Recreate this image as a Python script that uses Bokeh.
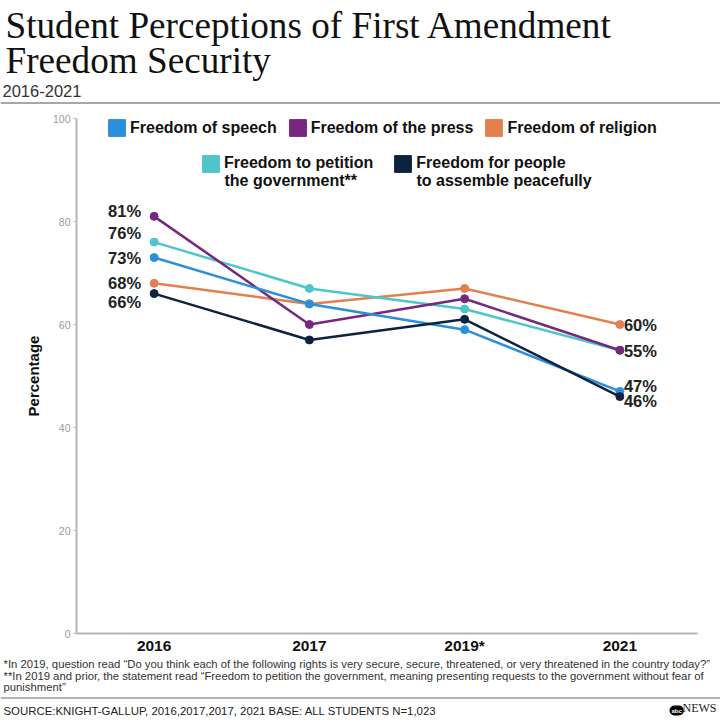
from bokeh.plotting import figure
from bokeh.layouts import column
from bokeh.models import (ColumnDataSource, FactorRange, Range1d, Label, Span,
                          Legend, LegendItem, FixedTicker)
from bokeh.embed import file_html
from bokeh.resources import INLINE
from bokeh.core.properties import value

# data
years = ["2016", "2017", "2019*", "2021"]
speech = [73, 64, 59, 47]
press = [81, 60, 65, 55]
religion = [68, 64, 67, 60]
petition = [76, 67, 63, 55]
assemble = [66, 57, 61, 46]
y_ticks = [0, 20, 40, 60, 80, 100]

names = {
    "speech": ["Freedom of speech"],
    "press": ["Freedom of the press"],
    "religion": ["Freedom of religion"],
    "petition": ["Freedom to petition", "the government**"],
    "assemble": ["Freedom for people", "to assemble peacefully"],
}
colors = {
    "speech": "#2B8FDA",
    "press": "#76277E",
    "religion": "#E2804F",
    "petition": "#4DC5C9",
    "assemble": "#0C2340",
}
series = {"religion": religion, "petition": petition, "press": press,
          "speech": speech, "assemble": assemble}

SANS = "Liberation Sans"
SERIF = "Liberation Serif"
W = 720
HEAD_H, MAIN_H, FOOT_H = 105, 551, 64
FRAME_L = 76  # frame left edge in page pixels; frame bottom sits at page y=634
DESC = 0.19   # "bottom" baseline sits this many font sizes below the letters' baseline


def blank(h):
    # text-only strip: data units equal pixels, y grows downward
    f = figure(width=W, height=h, x_range=Range1d(0, W), y_range=Range1d(h, 0),
               output_backend="svg", toolbar_location=None, min_border=0,
               x_axis_location=None, y_axis_location=None, frame_align=False)
    f.outline_line_color = None
    f.grid.visible = False
    return f


def add_text(f, txt, x, base, size, font=SANS, style="normal", color="#222222", **kw):
    # base = wanted letter baseline, in strip pixels
    f.add_layout(Label(x=x, y=base + DESC * size, text=txt, text_font=font,
                       text_font_style=style, text_font_size=f"{size}px",
                       text_color=color, text_baseline="bottom", **kw))


# header
head = blank(HEAD_H)
add_text(head, "Student Perceptions of First Amendment", 5, 38, 37.2, font=SERIF,
         color="#111111")
add_text(head, "Freedom Security", 5, 73, 37.2, font=SERIF, color="#111111")
add_text(head, "2016-2021", 2, 93, 16.5, color="#333333")
head.add_layout(Span(location=102.5, dimension="width", line_color="#8a8a8a", line_width=1.5))

# main chart
p = figure(width=W, height=MAIN_H, x_range=FactorRange(*years), y_range=Range1d(0, 100),
           output_backend="svg", toolbar_location=None, frame_align=False,
           min_border_left=FRAME_L, min_border_right=23, min_border_top=13, min_border_bottom=22)
p.outline_line_color = None
p.grid.visible = False

for key, vals in series.items():
    p.line(years, vals, color=colors[key], line_width=2.5)
    p.scatter(years, vals, size=8, color=colors[key])

# value labels (offsets are layout only)
left_dy = {"religion": 0, "petition": -9, "press": -5, "speech": 0, "assemble": 8}
right_dy = {"religion": 0, "petition": 1, "speech": -5, "assemble": 4}

left_src = ColumnDataSource(dict(
    x=[years[0]] * len(series),
    y=[v[0] for v in series.values()],
    text=[f"{v[0]}%" for v in series.values()],
    dy=[left_dy[k] for k in series],
))
right_keys = [k for k in series if k != "press"]
right_src = ColumnDataSource(dict(
    x=[years[-1]] * len(right_keys),
    y=[series[k][-1] for k in right_keys],
    text=[f"{series[k][-1]}%" for k in right_keys],
    dy=[right_dy[k] for k in right_keys],
))
lbl_style = dict(text_baseline="middle", text_font=value(SANS), text_font_style="bold",
                 text_font_size="16.5px", text_color="#222222")
p.text(x="x", y="y", text="text", source=left_src, x_offset=-13, y_offset="dy",
       text_align="right", **lbl_style)
p.text(x="x", y="y", text="text", source=right_src, x_offset=4, y_offset="dy",
       text_align="left", **lbl_style)

# axes
p.yaxis.ticker = FixedTicker(ticks=y_ticks)
p.yaxis.axis_label = "Percentage"
p.yaxis.axis_label_text_font = SANS
p.yaxis.axis_label_text_font_style = "bold"
p.yaxis.axis_label_text_font_size = "15px"
p.yaxis.axis_label_text_color = "#111111"
p.yaxis.axis_label_standoff = 8
p.yaxis.major_label_text_font = SANS
p.yaxis.major_label_text_font_size = "10.5px"
p.yaxis.major_label_text_color = "#9a9a9a"
p.yaxis.major_label_standoff = 3
p.yaxis.major_tick_out = 3
p.yaxis.major_tick_in = 0
p.yaxis.major_tick_line_color = "#bbbbbb"
p.yaxis.minor_tick_line_color = None
p.yaxis.axis_line_color = "#b5b5b5"
p.yaxis.axis_line_width = 2

p.xaxis.major_label_text_font = SANS
p.xaxis.major_label_text_font_style = "bold"
p.xaxis.major_label_text_font_size = "15.5px"
p.xaxis.major_label_text_color = "#111111"
p.xaxis.major_label_standoff = 3
p.xaxis.major_tick_out = 0
p.xaxis.major_tick_in = 0
p.xaxis.major_tick_line_color = None
p.xaxis.axis_line_color = "#b5b5b5"
p.xaxis.axis_line_width = 2

# legend swatches: hidden rects that only feed the legend glyphs
swatch = {}
for key, vals in series.items():
    swatch[key] = p.rect(x=years, y=vals, width=0.05, height=1, fill_color=colors[key],
                         line_color=colors[key], visible=False)

leg_style = dict(orientation="horizontal", glyph_width=21, glyph_height=21, label_standoff=3,
                 padding=0, margin=0, border_line_color=None, background_fill_alpha=0,
                 label_text_font=SANS, label_text_font_style="bold",
                 label_text_font_size="16px", label_text_color="#111111")
# location = bottom-left corner, pixels from the frame's bottom-left
leg1 = Legend(items=[LegendItem(label=names[k][0], renderers=[swatch[k]])
                     for k in ["speech", "press", "religion"]],
              location=(106 - FRAME_L, 634 - 139), spacing=10, **leg_style)
leg2 = Legend(items=[LegendItem(label=names[k][0], renderers=[swatch[k]])
                     for k in ["petition", "assemble"]],
              location=(200 - FRAME_L, 634 - 174.5), spacing=19, **leg_style)
p.add_layout(leg1)
p.add_layout(leg2)
# second lines of the two-line legend labels (letter baseline at page y=186)
for k, X in [("petition", 224), ("assemble", 416)]:
    p.add_layout(Label(x=X - FRAME_L, y=634 - 186 - DESC * 16, x_units="screen",
                       y_units="screen", text=names[k][1], text_font=SANS,
                       text_font_style="bold", text_font_size="16px", text_color="#111111",
                       text_baseline="bottom"))

# footer
foot = blank(FOOT_H)
add_text(foot, "*In 2019, question read \u201cDo you think each of the following rights is very "
         "secure, secure, threatened, or very threatened in the country today?\u201d",
         3, 11, 11.3, color="#333333")
add_text(foot, "**In 2019 and prior, the statement read \u201cFreedom to petition the government, "
         "meaning presenting requests to the government without fear of",
         3, 23, 11.3, color="#333333")
add_text(foot, "punishment\u201d", 3, 34, 11.3, color="#333333")
foot.add_layout(Span(location=41.5, dimension="width", line_color="#9a9a9a", line_width=1.5))
add_text(foot, "SOURCE:KNIGHT-GALLUP, 2016,2017,2017, 2021 BASE: ALL STUDENTS N=1,023",
         3, 58, 11.4, color="#222222")
foot.add_layout(Label(x=669, y=54, text="abc", text_font=SANS, text_font_style="bold",
                      text_font_size="6px", text_color="white", text_baseline="middle",
                      background_fill_color="black", border_radius=6, padding=2))
add_text(foot, "NEWS", 682, 56, 12, font=SERIF, color="#222222")

layout = column(head, p, foot, spacing=0)
open("out.html", "w").write(file_html(layout, INLINE))
